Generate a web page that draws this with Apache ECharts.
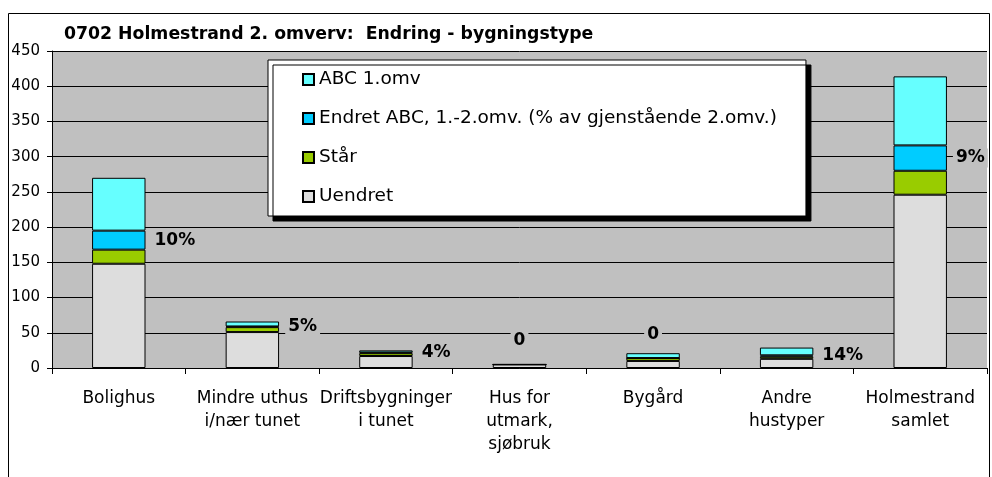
<!DOCTYPE html>
<html>
<head>
<meta charset="utf-8">
<title>0702 Holmestrand 2. omverv</title>
<script src="https://cdn.jsdelivr.net/npm/echarts@6/dist/echarts.min.js"></script>
<style>
  html, body { margin: 0; padding: 0; background: #fff; }
  #chart { width: 992px; height: 477px; }
</style>
</head>
<body>
<div id="chart"></div>
<script>
const categories = [
  "Bolighus",
  "Mindre uthus\ni/nær tunet",
  "Driftsbygninger\ni tunet",
  "Hus for\nutmark,\nsjøbruk",
  "Bygård",
  "Andre\nhustyper",
  "Holmestrand\nsamlet",
];
const uendret = [148, 51, 17, 5, 10, 13, 246];
const staar = [20, 7, 4, 0, 4, 3, 34];
const endret = [27, 1, 1, 0, 0, 2, 36];
const abc = [75, 7, 3, 0, 7, 11, 98];
const pctLabels = ["10%", "5%", "4%", "0", "0", "14%", "9%"];
const yTicks = { min: 0, max: 450, interval: 50 };

const font = "DejaVu Sans, Liberation Sans, Arial, sans-serif";
const border = { borderColor: "#000", borderWidth: 1 };

// etiketter: prosent til høyre, "0" over stabelen
const endretData = endret.map((v, i) => ({
  value: v,
  label: pctLabels[i] === "0" ? { position: "top", distance: 14 } : {},
}));

const chart = echarts.init(document.getElementById("chart"));
chart.setOption({
  animation: false,
  textStyle: { fontFamily: font },
  title: {
    text: "0702 Holmestrand 2. omverv:  Endring - bygningstype",
    left: 59,
    top: 21,
    textStyle: { fontSize: 17.3, fontWeight: "bold", color: "#000", fontFamily: font },
  },
  graphic: [
    {
      type: "rect",
      shape: { x: 8.5, y: 13.5, width: 981, height: 480 },
      style: { fill: "none", stroke: "#000", lineWidth: 1 },
      z: -10,
    },
  ],
  legend: {
    orient: "vertical",
    left: 268,
    top: 60,
    data: ["ABC 1.omv", "Endret ABC, 1.-2.omv. (% av gjenstående 2.omv.)", "Står", "Uendret"],
    icon: "rect",
    itemWidth: 11,
    itemHeight: 11,
    itemGap: 20,
    padding: [10, 29, 10, 34],
    backgroundColor: "#fff",
    borderColor: "#000",
    borderWidth: 1,
    shadowColor: "#000",
    shadowBlur: 0,
    shadowOffsetX: 5,
    shadowOffsetY: 5,
    textStyle: { fontSize: 18.5, color: "#000", fontFamily: font },
    selectedMode: false,
  },
  grid: {
    left: 52,
    right: 5,
    top: 51,
    bottom: 109,
    show: true,
    backgroundColor: "#C0C0C0",
    borderWidth: 0,
  },
  xAxis: {
    type: "category",
    data: categories,
    axisLine: { lineStyle: { color: "#000", width: 1 } },
    axisTick: { show: true, length: 6, lineStyle: { color: "#000" } },
    axisLabel: {
      interval: 0,
      margin: 19,
      fontSize: 17,
      lineHeight: 23,
      color: "#000",
      fontFamily: font,
    },
  },
  yAxis: {
    type: "value",
    min: yTicks.min,
    max: yTicks.max,
    interval: yTicks.interval,
    axisLine: { show: true, lineStyle: { color: "#000", width: 1 } },
    axisTick: { show: true, length: 5, lineStyle: { color: "#000" } },
    axisLabel: { margin: 12, fontSize: 15, color: "#000", fontFamily: font },
    splitLine: { show: true, lineStyle: { color: "#000", width: 1 } },
  },
  series: [
    {
      name: "Uendret",
      type: "bar",
      stack: "tot",
      barWidth: "40%",
      data: uendret,
      itemStyle: Object.assign({ color: "#DDDDDD" }, border),
    },
    {
      name: "Står",
      type: "bar",
      stack: "tot",
      data: staar,
      itemStyle: Object.assign({ color: "#99CC00" }, border),
    },
    {
      name: "Endret ABC, 1.-2.omv. (% av gjenstående 2.omv.)",
      type: "bar",
      stack: "tot",
      data: endretData,
      itemStyle: Object.assign({ color: "#00CCFF" }, border),
      label: {
        show: true,
        position: "right",
        distance: 6,
        formatter: (p) => pctLabels[p.dataIndex],
        fontSize: 17,
        fontWeight: "bold",
        color: "#000",
        fontFamily: font,
        backgroundColor: "#C0C0C0",
        padding: [1, 3],
      },
      z: 5,
    },
    {
      name: "ABC 1.omv",
      type: "bar",
      stack: "tot",
      data: abc,
      itemStyle: Object.assign({ color: "#66FFFF" }, border),
    },
  ],
});
</script>
</body>
</html>
